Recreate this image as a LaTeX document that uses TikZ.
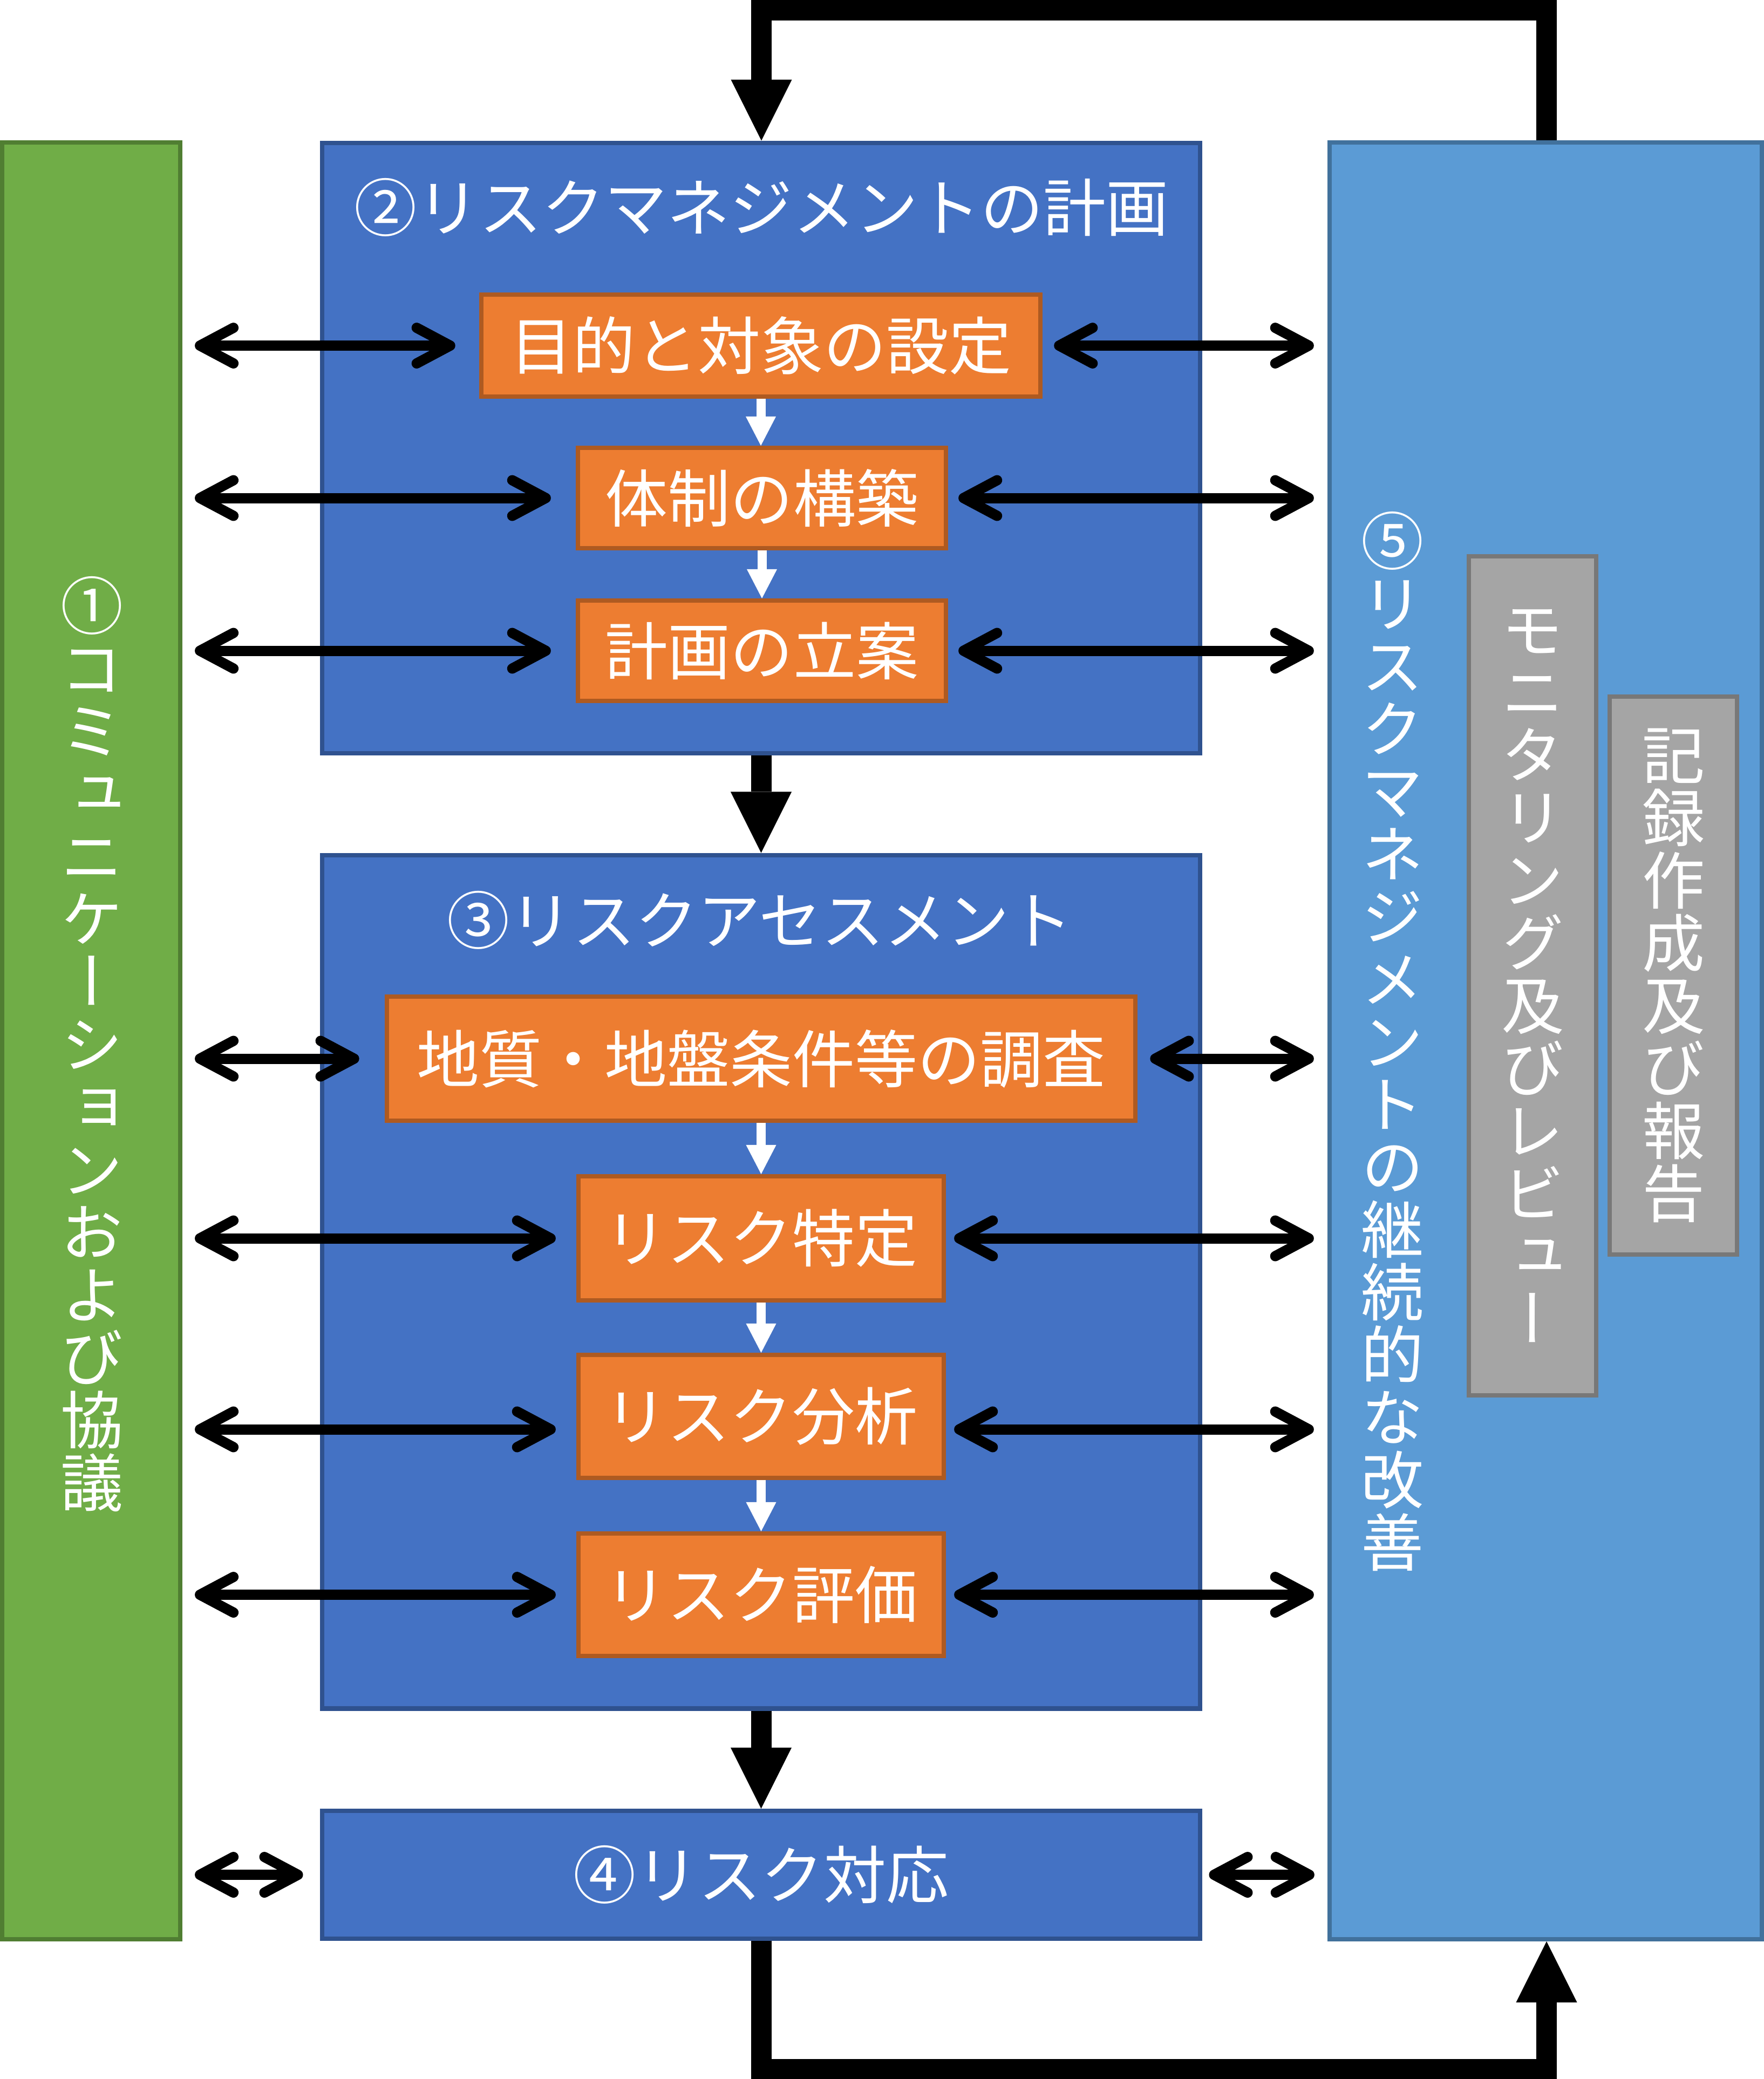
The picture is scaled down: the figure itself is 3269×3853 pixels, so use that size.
\documentclass[tikz,border=0pt]{standalone}
\usepackage{fontspec}
\newfontfamily\jp{Noto Sans CJK JP}
\newfontfamily\jpv[RawFeature=+vert]{Noto Sans CJK JP}
\usetikzlibrary{arrows.meta,calc}
\definecolor{bfill}{HTML}{4472C4}
\definecolor{bline}{HTML}{2F528F}
\definecolor{lfill}{HTML}{5B9BD5}
\definecolor{lline}{HTML}{41719C}
\definecolor{gfill}{HTML}{70AD47}
\definecolor{gline}{HTML}{507E32}
\definecolor{ofill}{HTML}{ED7D31}
\definecolor{oline}{HTML}{AE5A21}
\definecolor{yfill}{HTML}{A5A5A5}
\definecolor{yline}{HTML}{787878}
\begin{document}
\begin{tikzpicture}[x=0.01cm,y=-0.01cm,
  bluebox/.style={draw=bline,fill=bfill,line width=0.08cm,inner sep=0pt},
  lightbox/.style={draw=lline,fill=lfill,line width=0.08cm,inner sep=0pt},
  greenbox/.style={draw=gline,fill=gfill,line width=0.08cm,inner sep=0pt},
  orangebox/.style={draw=oline,fill=ofill,line width=0.08cm,inner sep=0pt,text=white,font=\jp\fontsize{33pt}{33pt}\selectfont},
  graybox/.style={draw=yline,fill=yfill,line width=0.08cm,inner sep=0pt,text=white,align=center,font=\jpv\fontsize{33pt}{33pt}\selectfont},
  lab/.style={text=white,inner sep=0pt,font=\jp\fontsize{33pt}{33pt}\selectfont},
  vlab/.style={text=white,inner sep=0pt,align=center,font=\jpv\fontsize{33pt}{33pt}\selectfont},
  dbl/.style={line width=0.19cm,{Straight Barb[length=0.62cm,width=0.66cm,round]}-{Straight Barb[length=0.62cm,width=0.66cm,round]}},
  warrow/.style={draw=white,line width=0.17cm,-{Triangle[length=0.54cm,width=0.56cm,line width=0pt]}},
  bigarrow/.style={draw=black,line width=0.38cm,-{Triangle[length=1.13cm,width=1.13cm,line width=0pt]}}
]
\useasboundingbox (0,0) rectangle (3269,3853);
\fill[white] (0,0) rectangle (3269,3853);

% main boxes
\node[greenbox,minimum width=3.30cm,minimum height=33.28cm] (comm) at (169,1929) {};
\node[bluebox,minimum width=16.27cm,minimum height=11.31cm] (plan) at (1410.5,830.5) {};
\node[bluebox,minimum width=16.27cm,minimum height=15.81cm] (assess) at (1410.5,2375.5) {};
\node[bluebox,minimum width=16.27cm,minimum height=2.37cm,lab] (resp) at (1410.5,3474.5) {④リスク対応};
\node[lightbox,minimum width=8.01cm,minimum height=33.28cm] (impr) at (2864.5,1929) {};

% titles
\node[lab] (t2) at (1411,384) {②リスクマネジメントの計画};
\node[lab] (t3) at (1408,1705) {③リスクアセスメント};

% vertical texts
\node[vlab] (t1) at (171,1935) {①\\コ\\ミ\\ュ\\ニ\\ケ\\ー\\シ\\ョ\\ン\\お\\よ\\び\\協\\議};
\node[vlab] (t5) at (2581,1930) {⑤\\リ\\ス\\ク\\マ\\ネ\\ジ\\メ\\ン\\ト\\の\\継\\続\\的\\な\\改\\善};
\node[graybox,minimum width=2.36cm,minimum height=15.55cm] (mon) at (2840,1808.5) {モ\\ニ\\タ\\リ\\ン\\グ\\及\\び\\レ\\ビ\\ュ\\ー};
\node[graybox,minimum width=2.36cm,minimum height=10.34cm] (rep) at (3101,1808) {記\\録\\作\\成\\及\\び\\報\\告};

% orange steps
\node[orangebox,minimum width=10.36cm,minimum height=1.89cm] (o1) at (1410,640.5) {目的と対象の設定};
\node[orangebox,minimum width=6.82cm,minimum height=1.86cm] (o2) at (1412,923) {体制の構築};
\node[orangebox,minimum width=6.82cm,minimum height=1.86cm] (o3) at (1412,1206) {計画の立案};
\node[orangebox,minimum width=13.87cm,minimum height=2.30cm] (o4) at (1410.5,1962) {地質・地盤条件等の調査};
\node[orangebox,minimum width=6.77cm,minimum height=2.30cm] (o5) at (1410.5,2295) {リスク特定};
\node[orangebox,minimum width=6.77cm,minimum height=2.28cm] (o6) at (1410.5,2625) {リスク分析};
\node[orangebox,minimum width=6.77cm,minimum height=2.27cm] (o7) at (1410.5,2955.5) {リスク評価};

% white step arrows
\draw[warrow] (o1.south) -- (o1.south |- o2.north);
\draw[warrow] (o2.south) -- (o3.north);
\draw[warrow] (o4.south) -- (o5.north);
\draw[warrow] (o5.south) -- (o6.north);
\draw[warrow] (o6.south) -- (o7.north);

% double arrows, planning
\draw[dbl] ($(comm.east |- o1.center)+(23,0)$) -- ($(o1.west)+(-44,0)$);
\draw[dbl] ($(o1.east)+(21,0)$) -- ($(impr.west |- o1.center)+(-25,0)$);
\draw[dbl] ($(comm.east |- o2.center)+(23,0)$) -- ($(o2.west)+(-46,0)$);
\draw[dbl] ($(o2.east)+(19,0)$) -- ($(impr.west |- o2.center)+(-25,0)$);
\draw[dbl] ($(comm.east |- o3.center)+(23,0)$) -- ($(o3.west)+(-46,0)$);
\draw[dbl] ($(o3.east)+(19,0)$) -- ($(impr.west |- o3.center)+(-25,0)$);
% double arrows, assessment
\draw[dbl] ($(comm.east |- o4.center)+(23,0)$) -- ($(o4.west)+(-47,0)$);
\draw[dbl] ($(o4.east)+(23,0)$) -- ($(impr.west |- o4.center)+(-25,0)$);
\draw[dbl] ($(comm.east |- o5.center)+(23,0)$) -- ($(o5.west)+(-38,0)$);
\draw[dbl] ($(o5.east)+(15,0)$) -- ($(impr.west |- o5.center)+(-25,0)$);
\draw[dbl] ($(comm.east |- o6.center)+(23,24)$) -- ($(o6.west)+(-38,24)$);
\draw[dbl] ($(o6.east)+(15,24)$) -- ($(impr.west |- o6.center)+(-25,24)$);
\draw[dbl] ($(comm.east |- o7.center)+(23,0)$) -- ($(o7.west)+(-38,0)$);
\draw[dbl] ($(o7.east)+(15,0)$) -- ($(impr.west |- o7.center)+(-25,0)$);
% double arrows, response
\draw[dbl] ($(comm.east |- resp.center)+(23,0)$) -- ($(resp.west)+(-31,0)$);
\draw[dbl] ($(resp.east)+(12,0)$) -- ($(impr.west |- resp.center)+(-24,0)$);

% main flow
\draw[bigarrow] (plan.south) -- (assess.north);
\draw[bigarrow] (assess.south) -- (resp.north);
\coordinate (tr) at (2866,18.5);
\coordinate (tl) at (1411,18.5);
\draw[bigarrow] (impr.north -| tr) -- (tr) -- (tl) -- (plan.north -| tl);
\coordinate (br) at (2866,3834.5);
\coordinate (bl) at (1411,3834.5);
\draw[bigarrow] (resp.south -| bl) -- (bl) -- (br) -- (impr.south -| br);
\end{tikzpicture}
\end{document}
